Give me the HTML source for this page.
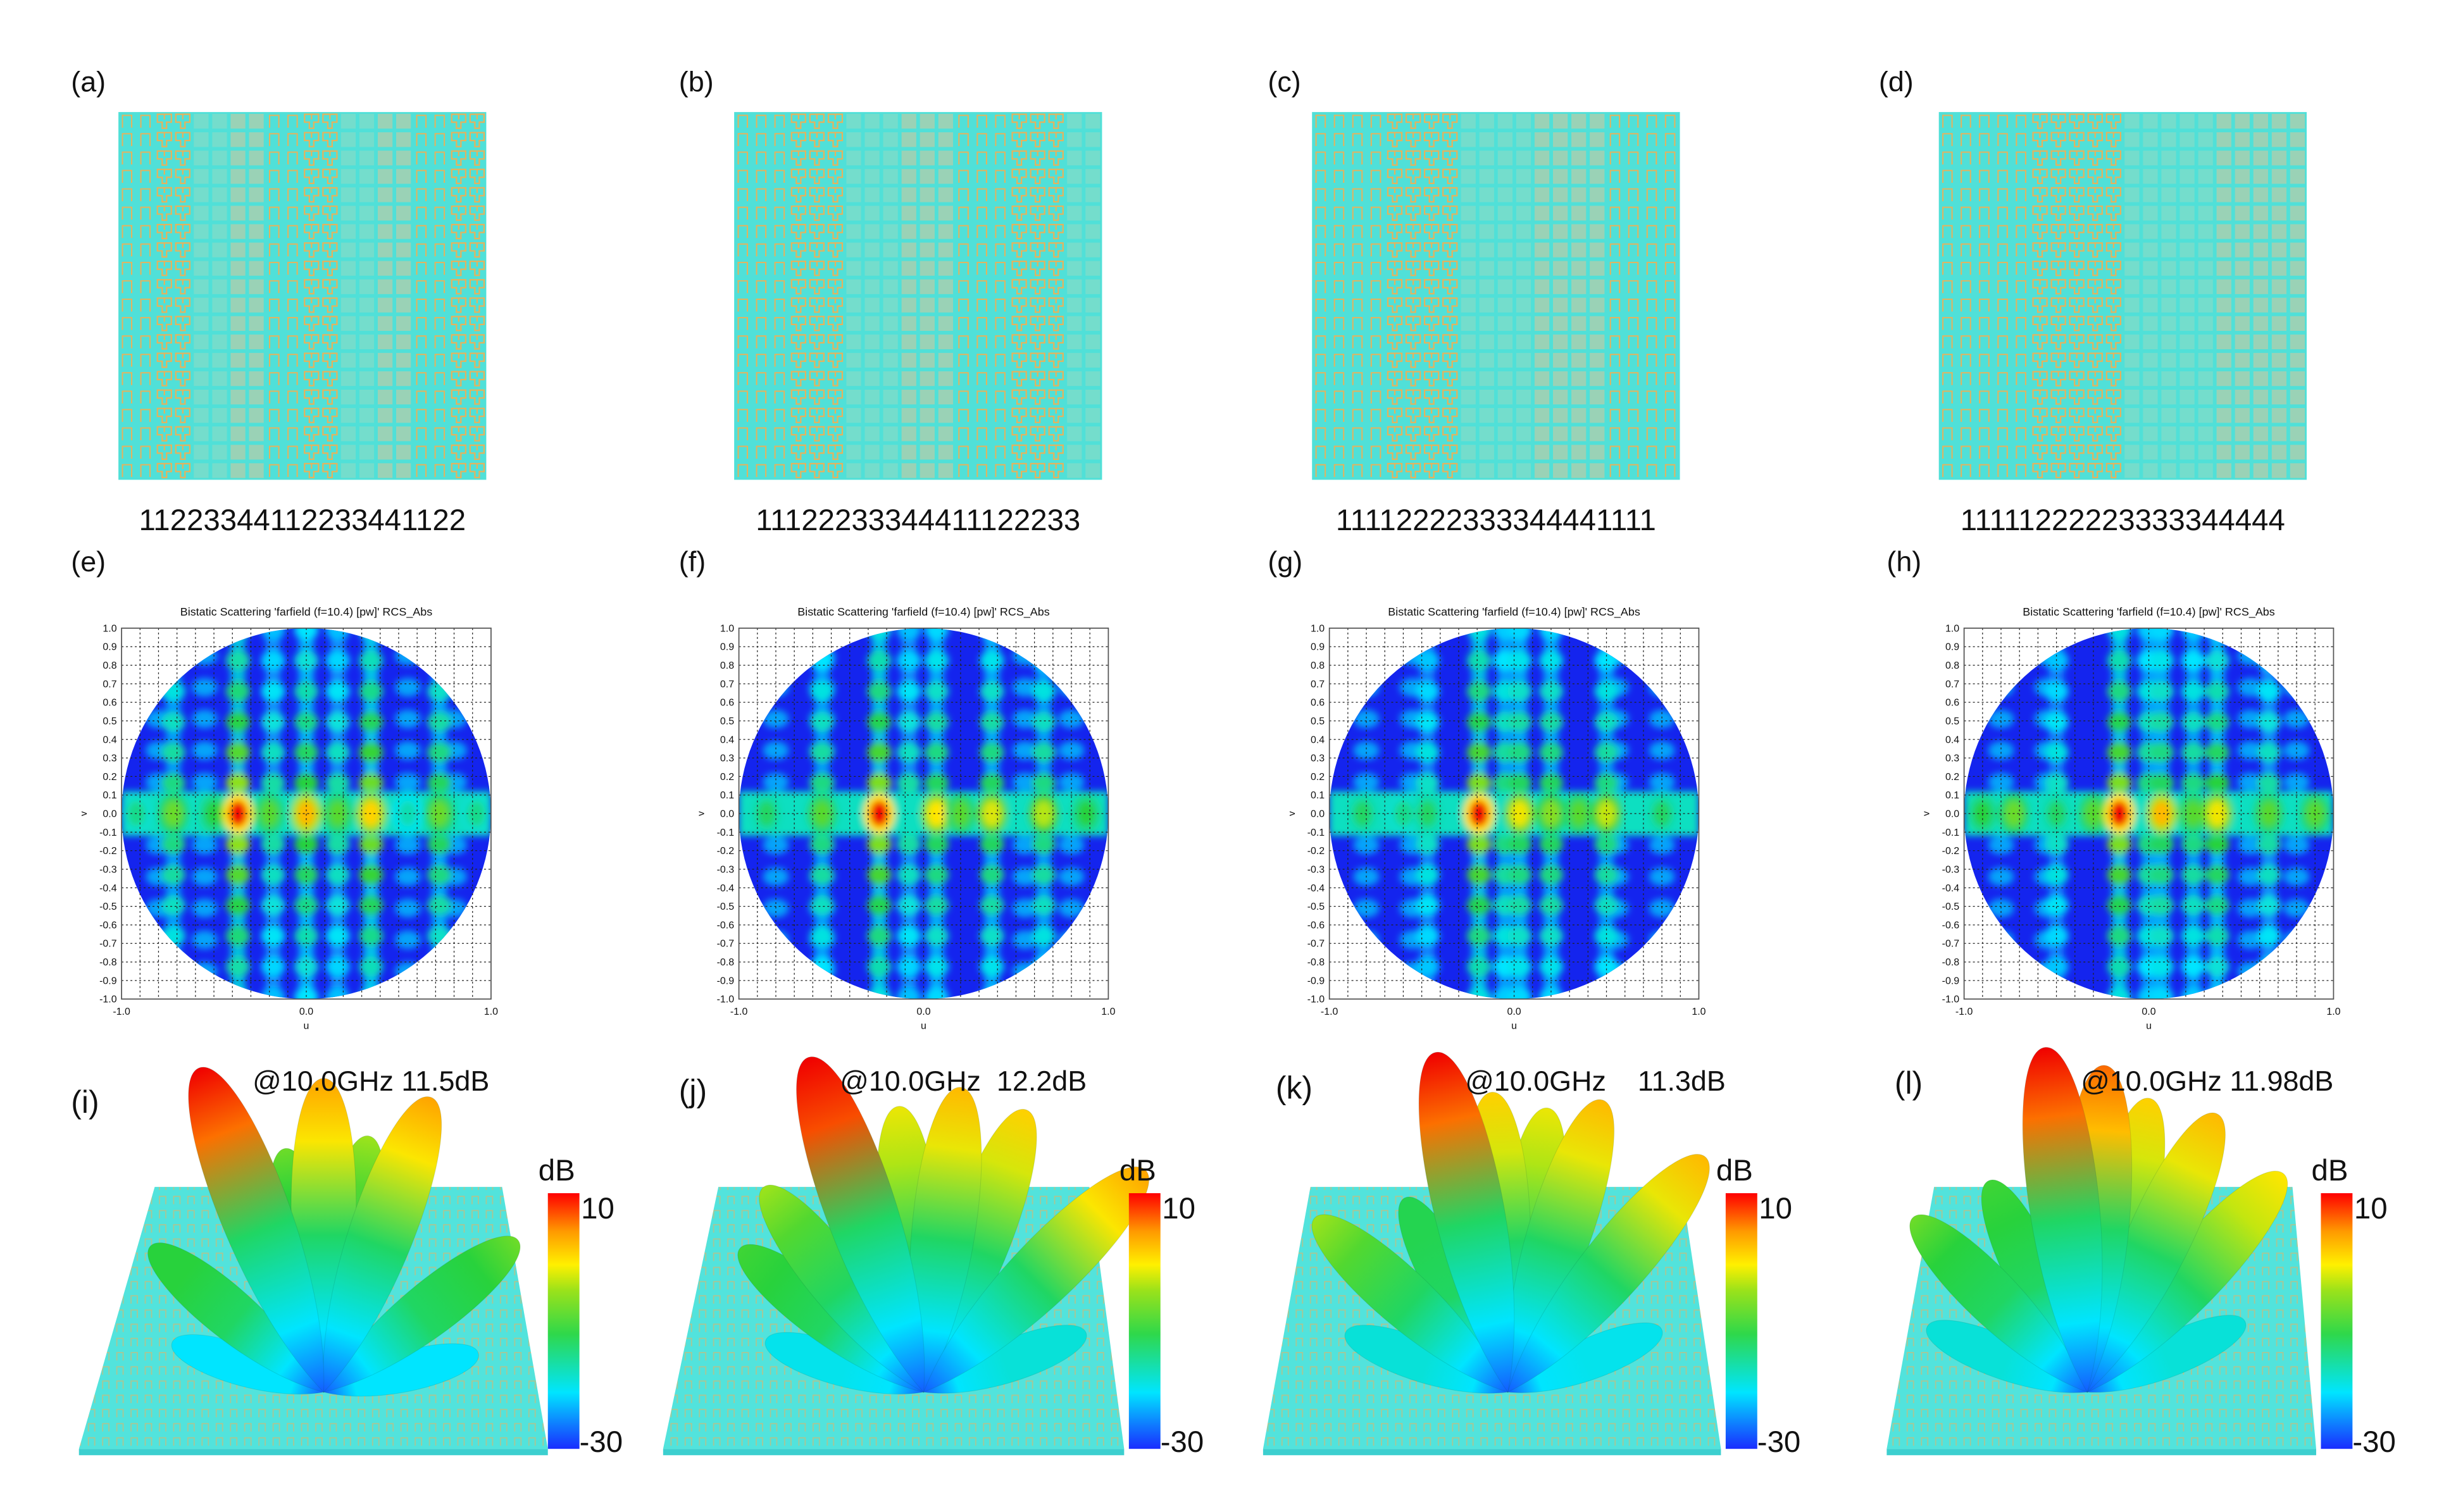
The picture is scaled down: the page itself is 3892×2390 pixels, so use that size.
<!DOCTYPE html>
<html><head><meta charset="utf-8"><style>
html,body{margin:0;padding:0;background:#fff;}
svg{display:block;font-family:"Liberation Sans",sans-serif;}
</style></head><body>
<svg id="fig" xmlns="http://www.w3.org/2000/svg" width="3892" height="2390" viewBox="0 0 1560 958" preserveAspectRatio="none">
<defs>
<filter id="blur" x="-10%" y="-10%" width="120%" height="120%"><feGaussianBlur stdDeviation="2.2"/></filter>
<linearGradient id="cbar" x1="0" y1="1" x2="0" y2="0">
<stop offset="0" stop-color="#1a2cff"/><stop offset="0.22" stop-color="#00e5ff"/><stop offset="0.45" stop-color="#2fd84a"/><stop offset="0.62" stop-color="#9be21a"/><stop offset="0.72" stop-color="#fff000"/><stop offset="0.85" stop-color="#ff9a00"/><stop offset="1" stop-color="#ff0000"/>
</linearGradient>
<pattern id="basePat" width="9" height="9" patternUnits="userSpaceOnUse">
<rect width="9" height="9" fill="#52e3dc"/><path d="M2 7V2H6V7" fill="none" stroke="#e8b060" stroke-width="0.7" opacity="0.6"/>
</pattern>
</defs>
<rect width="1560" height="958" fill="#fff"/>
<g id="root"></g>
</svg>
<script>
// ---------- data ----------
const panelLetters = ["(a)","(b)","(c)","(d)"];
const codes = ["11223344112233441122","11122233344411122233","11112222333344441111","11111222223333344444"];
const chartLetters = ["(e)","(f)","(g)","(h)"];
const patLetters = ["(i)","(j)","(k)","(l)"];
const chartTitle = "Bistatic Scattering 'farfield (f=10.4) [pw]' RCS_Abs";
const yTicks = [1.0,0.9,0.8,0.7,0.6,0.5,0.4,0.3,0.2,0.1,0.0,-0.1,-0.2,-0.3,-0.4,-0.5,-0.6,-0.7,-0.8,-0.9,-1.0];
const xTicks = [-1.0,0.0,1.0];
const peaksU = [[-0.92,-0.72,-0.5,-0.37,-0.2,0.0,0.17,0.35,0.55,0.72,0.92],[-0.85,-0.55,-0.24,0.07,0.2,0.37,0.65,0.88],[-0.82,-0.6,-0.47,-0.19,0.03,0.2,0.35,0.5,0.8],[-0.9,-0.73,-0.5,-0.3,-0.16,0.07,0.24,0.37,0.65,0.9]];
const peaksL = [[0.45,0.62,0.55,1.0,0.6,0.85,0.6,0.82,0.4,0.62,0.45],[0.5,0.6,1.0,0.8,0.6,0.75,0.7,0.55],[0.5,0.45,0.5,1.0,0.78,0.65,0.6,0.72,0.5],[0.55,0.62,0.5,0.6,1.0,0.85,0.6,0.78,0.6,0.6]];
const stripU = [[-0.72,-0.37,-0.18,0.0,0.17,0.35,0.72],[-0.55,-0.24,-0.08,0.07,0.37,0.65],[-0.47,-0.19,-0.05,0.03,0.2,0.5],[-0.5,-0.16,0.0,0.07,0.24,0.37,0.65]];
const stripL = [[0.4,0.62,0.35,0.5,0.35,0.58,0.45],[0.4,0.6,0.35,0.45,0.45,0.4],[0.3,0.6,0.4,0.45,0.45,0.4],[0.3,0.6,0.4,0.45,0.4,0.5,0.35]];
const gains = ["@10.0GHz 11.5dB","@10.0GHz  12.2dB","@10.0GHz    11.3dB","@10.0GHz 11.98dB"];
const lobeA = [[-72,-50,-21,-9,0,10,20,52,76],[-72,-52,-38,-19,-5,7,20,45,70],[-70,-48,-28,-12,-3,8,18,40,68],[-68,-45,-25,-7,3,12,25,42,66]];
const lobeG = [[-18,-8,10,-5,5,-3,5,-5,-18],[-17,-7,-3,11,1,4,3,5,-16],[-16,-3,-9,10,3,1,4,4,-17],[-16,-5,-7,10,7,3,4,2,-16]];
const cbTicks = ["10","-30"];

const NS="http://www.w3.org/2000/svg";
const root=document.getElementById('root');
function mk(tag,attrs,parent){const e=document.createElementNS(NS,tag);for(const k in attrs)e.setAttribute(k,attrs[k]);(parent||root).appendChild(e);return e;}
function txt(s,x,y,size,parent,anchor){const t=mk('text',{x:x,y:y,'font-size':size,'text-anchor':anchor||'start',fill:'#111'},parent);t.textContent=s;return t;}
function jet(l){const st=[[0,[26,44,255]],[0.3,[0,229,255]],[0.55,[40,210,60]],[0.7,[180,230,20]],[0.8,[255,230,0]],[0.9,[255,140,0]],[1,[240,0,0]]];
 l=Math.max(0,Math.min(1,l));for(let i=1;i<st.length;i++){if(l<=st[i][0]){const a=st[i-1],b=st[i],f=(l-a[0])/(b[0]-a[0]);return 'rgb('+a[1].map((c,j)=>Math.round(c+(b[1][j]-c)*f)).join(',')+')';}}return 'rgb(240,0,0)';}

// ---------- row 1 ----------
const sqX=[75,465,831,1228], sqY=71, sqS=233;
const labX1=[45,430,803,1190];
for(let p=0;p<4;p++){
 const g=mk('g',{});
 
 
 const l=txt(panelLetters[p],labX1[p],58,18,g);
 
 mk('rect',{x:sqX[p],y:sqY,width:sqS,height:sqS,fill:'#50e0d8'},g);
 const code=codes[p], n=code.length, s=sqS/n;
 for(let c=0;c<n;c++){const d=code[c];
  for(let r=0;r<n;r++){const x=sqX[p]+c*s,y=sqY+r*s;
   if(d==='1')mk('path',{d:`M${x+s*0.22} ${y+s*0.85}V${y+s*0.18}H${x+s*0.72}V${y+s*0.85}`,fill:'none',stroke:'#e6b25c','stroke-width':0.8},g);
   else if(d==='2')mk('path',{d:`M${x+s*0.12} ${y+s*0.12}H${x+s*0.88}V${y+s*0.55}H${x+s*0.62}V${y+s*0.88}H${x+s*0.38}V${y+s*0.55}H${x+s*0.12}Z M${x+s*0.5} ${y+s*0.12}V${y+s*0.4}`,fill:'none',stroke:'#e6b25c','stroke-width':0.9},g);
   else if(d==='3')mk('rect',{x:x+s*0.1,y:y+s*0.1,width:s*0.8,height:s*0.8,fill:'#74ddcc'},g);
   else mk('rect',{x:x+s*0.1,y:y+s*0.1,width:s*0.8,height:s*0.8,fill:'#9ad2b6'},g);
  }}
 const ct=txt(code,sqX[p]+sqS/2,336,19,g,'middle');
 
}

// ---------- row 2 ----------
const plX=[77,468,842,1244], plY=398, plW=234, plH=235;
const labX2=[45,430,803,1195];
for(let p=0;p<4;p++){
 const g=mk('g',{});
 
 
 const l=txt(chartLetters[p],labX2[p],362,18,g);
 
 const xs=u=>plX[p]+(u+1)/2*plW, ys=v=>plY+(1-v)/2*plH;
 const tt=txt(chartTitle,xs(0),390,7.2,g,'middle');
 
 mk('rect',{x:plX[p],y:plY,width:plW,height:plH,fill:'#fff'},g);
 const cid='clip'+p;
 const cp=mk('clipPath',{id:cid},g);mk('ellipse',{cx:xs(0),cy:ys(0),rx:plW/2,ry:plH/2},cp);
 const hm=mk('g',{'clip-path':`url(#${cid})`},g);
 mk('rect',{x:plX[p],y:plY,width:plW,height:plH,fill:'#1424ee'},hm);
 const bl=mk('g',{filter:'url(#blur)'},hm);
 // diffuse side blobs
 for(let k=1;k<=5;k++){[1,-1].forEach(sg=>{[-0.8,-0.55,0.55,0.8].forEach(u=>{
  mk('ellipse',{cx:xs(u),cy:ys(sg*k*0.17),rx:0.07*plW/2,ry:0.05*plH/2,fill:jet(0.28),opacity:0.7},bl);});});}
 stripU[p].forEach((u,i)=>{
  const sr=mk('rect',{x:xs(u-0.04),y:plY,width:0.08*plW/2,height:plH,fill:jet(stripL[p][i]*0.55),opacity:0.8},bl);
  
  for(let k=1;k<=6;k++){[1,-1].forEach(sg=>{const v=sg*k*0.165;
   const b=mk('ellipse',{cx:xs(u),cy:ys(v),rx:0.065*plW/2,ry:0.055*plH/2,fill:jet(stripL[p][i]*(1-k*0.1)+0.1)},bl);
   });}
 });
 mk('rect',{x:plX[p],y:ys(0.12),width:plW,height:ys(-0.12)-ys(0.12),fill:jet(0.38)},bl);
 peaksU[p].forEach((u,i)=>{
  const lv=peaksL[p][i];
  const o=mk('ellipse',{cx:xs(u),cy:ys(0),rx:0.085*plW/2,ry:0.11*plH/2,fill:jet(lv*0.8)},bl);
  
  mk('ellipse',{cx:xs(u),cy:ys(0),rx:0.05*plW/2,ry:0.07*plH/2,fill:jet(lv)},bl);
 });
 for(let k=-9;k<=9;k++){const v=k/10;
  mk('line',{x1:plX[p],x2:plX[p]+plW,y1:ys(v),y2:ys(v),stroke:'#222','stroke-width':0.5,'stroke-dasharray':'1.2 1.6'},g);
  mk('line',{y1:plY,y2:plY+plH,x1:xs(v),x2:xs(v),stroke:'#222','stroke-width':0.5,'stroke-dasharray':'1.2 1.6'},g);}
 mk('rect',{x:plX[p],y:plY,width:plW,height:plH,fill:'none',stroke:'#555','stroke-width':0.7},g);
 yTicks.forEach(v=>{const t=txt(v.toFixed(1),plX[p]-3,ys(v)+2.2,6.4,g,'end');});
 xTicks.forEach(u=>{const t=txt(u.toFixed(1),xs(u),plY+plH+10,6.4,g,'middle');});
 const ux=txt('u',xs(0),plY+plH+19,6.4,g,'middle');
 const vy=txt('v',plX[p]-24,ys(0)+2,6,g,'middle');vy.setAttribute('transform',`rotate(-90 ${plX[p]-24} ${ys(0)})`);
 
}

// ---------- row 3 ----------
const baseTop=[[98,318],[455,690],[830,1065],[1225,1452]];
const baseBot=[[50,347],[420,712],[800,1090],[1195,1467]];
const orgX=[205,585,955,1322], orgY=882;
const cbX=[347,715,1093,1470];
const labX3=[45,430,808,1200], labY3=[705,698,696,693];
const gainX=[160,532,928,1318];
const lenS=v=>50+ (v+30)/40*170;
for(let p=0;p<4;p++){
 const g=mk('g',{});
 
 
 const bt=baseTop[p],bb=baseBot[p];
 const base=mk('path',{d:`M${bt[0]} 752H${bt[1]}L${bb[1]} 918H${bb[0]}Z`,fill:'url(#basePat)'},g);
 
 mk('path',{d:`M${bb[0]} 918H${bb[1]}V922H${bb[0]}Z`,fill:'#3ccfcf'},g);
 const idx=lobeA[p].map((a,i)=>i).sort((a,b)=>lobeG[p][a]-lobeG[p][b]);
 idx.forEach(i=>{
  const a=lobeA[p][i],gd=lobeG[p][i],L=lenS(gd),w=L*0.085+5;
  const gid='lg'+p+'_'+i;
  const lg=mk('linearGradient',{id:gid,x1:0,y1:1,x2:0,y2:0},g);
  const top=(gd+30)/40;
  [[0,0.08],[0.2,0.3],[0.5,0.5],[0.8,Math.max(0.55,top-0.08)],[1,top]].forEach(s=>mk('stop',{offset:s[0],'stop-color':jet(Math.min(s[1],top))},lg));
  const lo=mk('path',{d:`M0 0C${-w*1.4} ${-L*0.35} ${-w*1.1} ${-L} 0 ${-L}C${w*1.1} ${-L} ${w*1.4} ${-L*0.35} 0 0Z`,fill:`url(#${gid})`,stroke:'rgba(0,90,60,0.15)','stroke-width':0.4,transform:`translate(${orgX[p]} ${orgY}) rotate(${a})`},g);
  
 });
 const lt=txt(patLetters[p],labX3[p],labY3[p],20,g);
 const gt=txt(gains[p],gainX[p],691,18,g);
 gt.style.whiteSpace='pre';
 const cb=mk('rect',{x:cbX[p],y:756,width:20,height:162,fill:'url(#cbar)'},g);
 
 const db=txt('dB',cbX[p]-6,748,19,g);
 const t1=txt(cbTicks[0],cbX[p]+21,772,19,g);
 const t2=txt(cbTicks[1],cbX[p]+20,920,19,g);
}
</script>
</body></html>
